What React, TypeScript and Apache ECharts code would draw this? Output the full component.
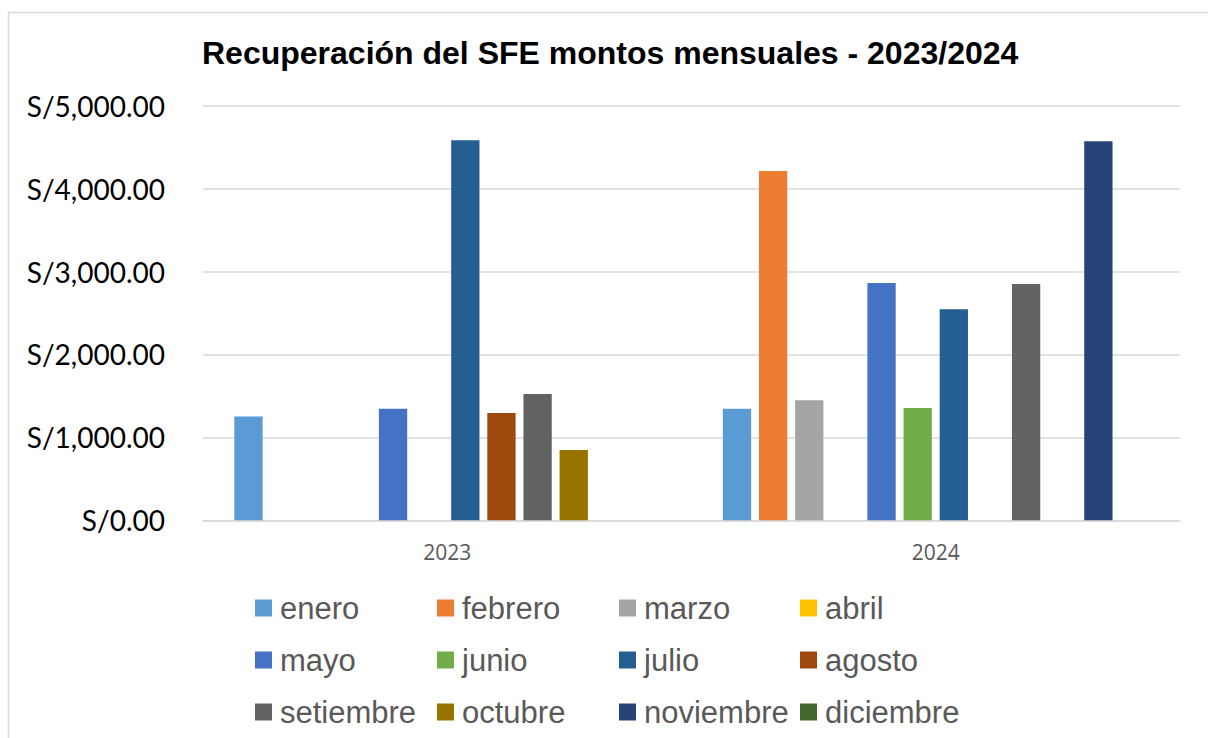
import React, { useEffect, useRef } from "react";
import * as echarts from "echarts";

const categories = ["2023", "2024"];
const months = [
  "enero", "febrero", "marzo", "abril", "mayo", "junio",
  "julio", "agosto", "setiembre", "octubre", "noviembre", "diciembre",
];
const colors = [
  "#5B9BD5", "#ED7D31", "#A5A5A5", "#FFC000", "#4472C4", "#70AD47",
  "#255E91", "#9E480E", "#636363", "#997300", "#264478", "#43682B",
];
// values per month: [2023, 2024]
const enero = [1253, 1345];
const febrero = [null, 4212];
const marzo = [null, 1449];
const abril = [null, null];
const mayo = [1345, 2863];
const junio = [null, 1353];
const julio = [4582, 2546];
const agosto = [1293, null];
const setiembre = [1522, 2851];
const octubre = [847, null];
const noviembre = [null, 4570];
const diciembre = [null, null];
const values = [enero, febrero, marzo, abril, mayo, junio, julio, agosto, setiembre, octubre, noviembre, diciembre];

const legendColumns = [
  ["enero", "mayo", "setiembre"],
  ["febrero", "junio", "octubre"],
  ["marzo", "julio", "noviembre"],
  ["abril", "agosto", "diciembre"],
];
const legendLefts = [255, 437, 619, 800];

export default function App() {
  const ref = useRef<HTMLDivElement>(null);
  useEffect(() => {
    document.body.style.margin = "0";
    const chart = echarts.init(ref.current!, null, { renderer: "svg" });
    const fmt = (v: number) =>
      "S/" + v.toLocaleString("en-US", { minimumFractionDigits: 2, maximumFractionDigits: 2 });
    chart.setOption({
      animation: false,
      backgroundColor: "#fff",
      title: {
        text: "Recuperación del SFE montos mensuales - 2023/2024",
        left: 202,
        top: 37,
        padding: 0,
        textStyle: {
          fontFamily: "'Liberation Sans', Arial, sans-serif",
          fontWeight: "bold",
          fontSize: 32,
          lineHeight: 32,
          color: "#000",
        },
      },
      graphic: [
        {
          type: "rect",
          shape: { x: 8.5, y: 12.5, width: 1300, height: 800 },
          style: { fill: "none", stroke: "#d9d9d9", lineWidth: 1.5 },
          silent: true,
        },
      ],
      legend: legendColumns.map((col, i) => ({
        data: col,
        orient: "vertical",
        left: legendLefts[i],
        top: 591,
        padding: 0,
        itemWidth: 17,
        itemHeight: 17,
        itemGap: 18,
        icon: "rect",
        selectedMode: false,
        textStyle: {
          fontFamily: "'Liberation Sans', Arial, sans-serif",
          fontSize: 31,
          lineHeight: 34,
          color: "#595959",
          padding: [0, 0, 0, 3],
        },
      })),
      grid: { left: 203, right: 28, top: 105.7, bottom: 217.7, containLabel: false },
      xAxis: {
        type: "category",
        data: categories,
        axisLine: { show: true, lineStyle: { color: "#d9d9d9", width: 1.5 } },
        axisTick: { show: false },
        axisLabel: {
          margin: 21,
          fontFamily: "'Open Sans', sans-serif",
          fontSize: 21,
          color: "#595959",
        },
      },
      yAxis: {
        type: "value",
        min: 0,
        max: 5000,
        interval: 1000,
        axisLine: { show: false },
        axisTick: { show: false },
        splitLine: { lineStyle: { color: "#d9d9d9", width: 1.5 } },
        axisLabel: {
          margin: 38,
          formatter: fmt,
          fontFamily: "Lato, sans-serif",
          fontSize: 28,
          color: "#000",
        },
      },
      series: months.map((m, i) => ({
        name: m,
        type: "bar",
        data: values[i],
        barWidth: 28.3,
        barGap: "27.7%",
        itemStyle: { color: colors[i] },
      })),
    });
    return () => chart.dispose();
  }, []);
  return <div ref={ref} style={{ width: 1208, height: 738 }} />;
}
